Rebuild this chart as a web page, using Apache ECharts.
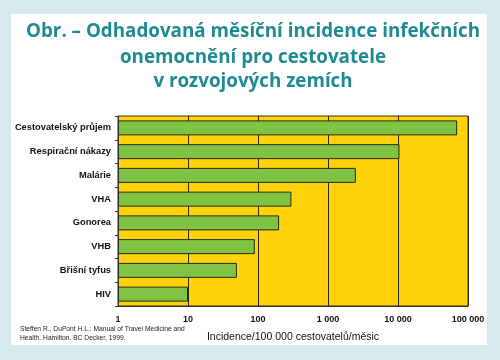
<!DOCTYPE html>
<html><head><meta charset="utf-8">
<script src="https://cdn.jsdelivr.net/npm/echarts@6/dist/echarts.min.js"></script>
<style>html,body{margin:0;padding:0;background:#d6eaf0;}#c{width:500px;height:360px;}</style>
</head><body><div id="c"></div>
<script>
const categories = ["Cestovatelský průjem","Respirační nákazy","Malárie","VHA","Gonorea","VHB","Břišní tyfus","HIV"];
const values = [70000, 10500, 2500, 300, 200, 90, 50, 10];
const tickLabels = {1:"1",10:"10",100:"100",1000:"1 000",10000:"10 000",100000:"100 000"};
const titleLines = ["Obr. – Odhadovaná měsíční incidence infekčních","onemocnění pro cestovatele","v rozvojových zemích"];
const axisName = "Incidence/100 000 cestovatelů/měsic";
const sourceText = "Steffen R., DuPont H.L.: Manual of Travel Medicine and\nHealth. Hamilton. BC Decker, 1999.";

const titleY = [32, 57.5, 81.5];
const titleGraphics = titleLines.map((t,i)=>({
  type:'text', x:253, y:titleY[i],
  style:{text:t, textAlign:'center', textVerticalAlign:'middle', font:'bold 18.8px "Open Sans"', fill:'#1e8a92'}
}));

const chart = echarts.init(document.getElementById('c'), null, {renderer:'canvas'});
chart.setOption({
  backgroundColor: '#d6eaf0',
  animation: false,
  graphic: [
    {type:'rect', z:-10, shape:{x:11,y:14,width:476,height:331}, style:{fill:'#ffffff'}},
    {type:'text', left:20, top:325, style:{text:sourceText, font:'6.7px Arial', fill:'#222', lineHeight:9}}
  ].concat(titleGraphics),
  grid: {left:118, right:32, top:116, bottom:54, show:true, backgroundColor:'#ffd20a', borderColor:'#333', borderWidth:1},
  xAxis: {
    type:'log', logBase:10, min:1, max:100000,
    axisLine:{show:true, lineStyle:{color:'#333'}},
    axisTick:{show:false},
    splitLine:{show:true, lineStyle:{color:'#2a2a1a', width:1}},
    axisLabel:{formatter:v=>tickLabels[Math.round(v)]||'', color:'#111', fontFamily:'Arial', fontWeight:'bold', fontSize:9, margin:9},
    name: axisName, nameLocation:'middle', nameGap:26,
    nameTextStyle:{fontFamily:'Arial', fontSize:10.5, color:'#111'}
  },
  yAxis: {
    type:'category', data:categories, inverse:true,
    axisLine:{show:true, lineStyle:{color:'#333'}},
    axisTick:{show:true, length:3, lineStyle:{color:'#333'}},
    axisLabel:{color:'#111', fontFamily:'Arial', fontWeight:'bold', fontSize:9.3, margin:7}
  },
  series: [{
    type:'bar', data:values, barWidth:15,
    itemStyle:{color:'#80c342', borderColor:'#2a2a1a', borderWidth:1}
  }]
});
</script></body></html>
